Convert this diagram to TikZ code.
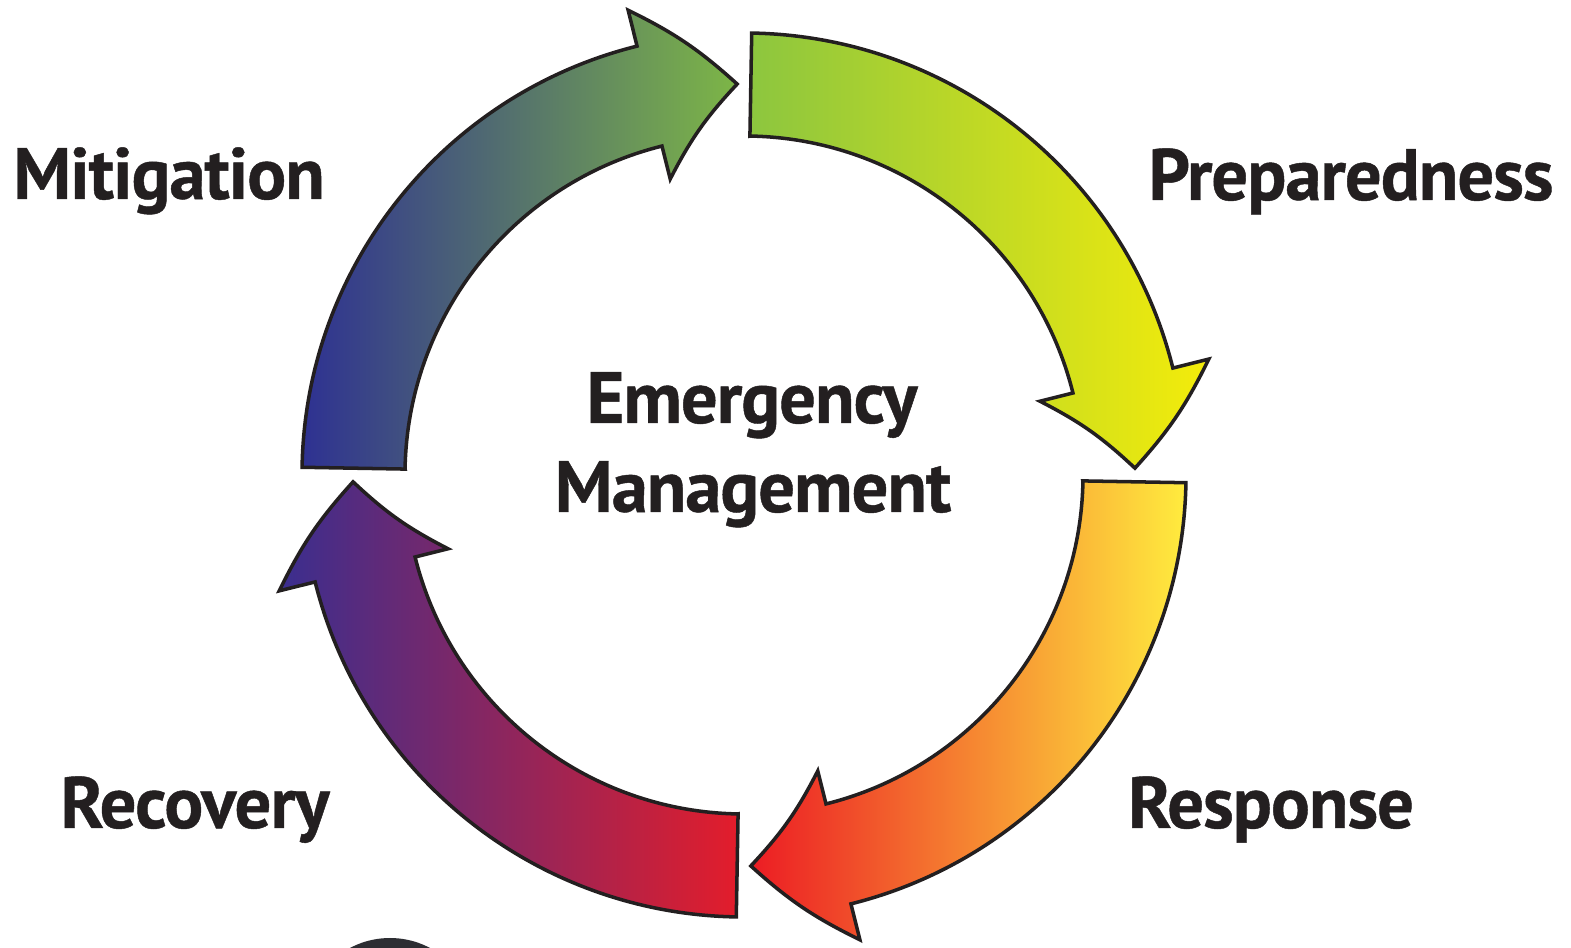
\documentclass[tikz,border=0pt]{standalone}
\usepackage{fontspec}
\setmainfont{PT Sans}[BoldFeatures={FakeBold=0.6,LetterSpace=-1.5}]
\definecolor{edge}{HTML}{231F20}
\definecolor{prepL}{HTML}{8CC63F}
\definecolor{prepR}{HTML}{F4EC0A}
\definecolor{respL}{HTML}{EC1C24}
\definecolor{respR}{HTML}{FFEC3E}
\definecolor{recoL}{HTML}{3A2E8F}
\definecolor{recoR}{HTML}{E31D2B}
\definecolor{mitiL}{HTML}{2E3192}
\definecolor{mitiR}{HTML}{7DB646}
\definecolor{blob}{HTML}{2D2E33}
\begin{document}
\begin{tikzpicture}[phase/.style={font=\bfseries\fontsize{20.7}{24}\selectfont,text=edge,inner sep=0pt,anchor=base},
                    cyclearrow/.style={draw=edge,line width=1pt,line join=miter}]
    \useasboundingbox (-7.44,-4.73) rectangle (8.27,4.75);
    \clip (-7.44,-4.73) rectangle (8.27,4.75);
    % four arrows, tail angle / shading colours
    \foreach \a/\lc/\rc in {89/prepL/prepR,-1/respL/respR,-91/recoL/recoR,179/mitiL/mitiR}{
        \pgfmathsetmacro\b{\a-88}
        \pgfmathsetmacro\h{\a-75}
        \draw[cyclearrow,left color=\lc,right color=\rc] (\a:3.39) -- (\a:4.42)
            arc[start angle=\a,end angle=\h,radius=4.42] -- (\h:4.79)
            to[bend left=8] (\b:3.91) to[bend right=8] (\h:3.05) -- (\h:3.39)
            arc[start angle=\h,end angle=\a,radius=3.39] -- cycle;
    }
    \fill[blob] (-3.54,-5.48) circle (0.85);
    % labels
    \node[phase] (center1) at (0.08,0.52) {Emergency};
    \node[phase] (center2) at (0.09,-0.37) {Management};
    \node[phase] (miti) at (-5.75,2.76) {Mitigation};
    \node[phase] (prep) at (6.07,2.75) {Preparedness};
    \node[phase] (resp) at (5.27,-3.53) {Response};
    \node[phase] (reco) at (-5.49,-3.53) {Recovery};
\end{tikzpicture}
\end{document}
